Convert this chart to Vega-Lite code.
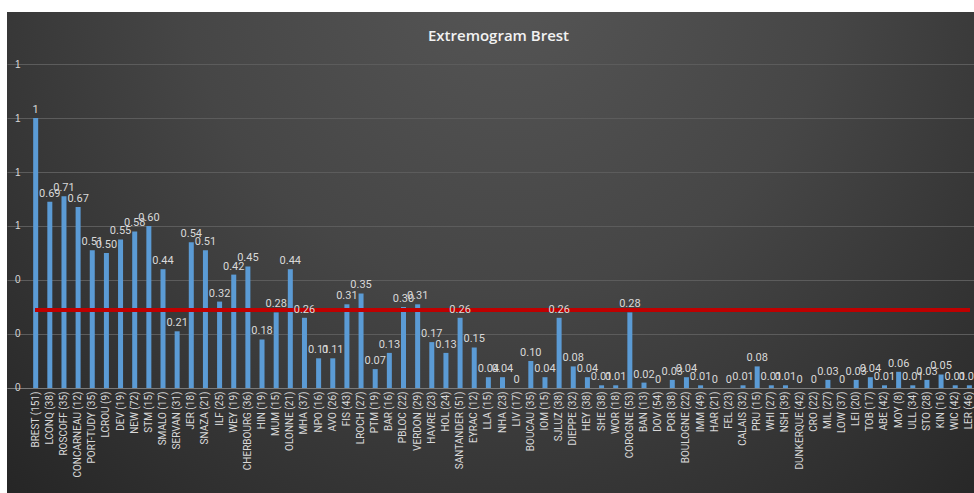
{
  "$schema": "https://vega.github.io/schema/vega-lite/v6.json",
  "autosize": {"type": "none"},
  "width": 967,
  "height": 481,
  "padding": {"left": 7, "top": 12, "right": 0, "bottom": 0},
  "background": "#ffffff",
  "view": {
    "stroke": null,
    "fill": {
      "gradient": "radial",
      "x1": 0.52, "y1": 0.2, "r1": 0,
      "x2": 0.52, "y2": 0.2, "r2": 0.75,
      "stops": [
        {"offset": 0, "color": "#565656"},
        {"offset": 0.45, "color": "#464646"},
        {"offset": 1, "color": "#262626"}
      ]
    }
  },
  "title": {
    "text": "Extremogram  Brest",
    "anchor": "middle",
    "frame": "group",
    "baseline": "middle",
    "offset": -39,
    "dx": 8,
    "font": "Open Sans",
    "fontSize": 15,
    "fontWeight": 600,
    "color": "#f2f2f2"
  },
  "data": {
    "values": [
      {"station": "BREST (151)", "v": 1},
      {"station": "LCONQ (38)", "v": 0.69},
      {"station": "ROSCOFF (35)", "v": 0.71},
      {"station": "CONCARNEAU (12)", "v": 0.67},
      {"station": "PORT-TUDY (35)", "v": 0.51},
      {"station": "LCROU (9)", "v": 0.50},
      {"station": "DEV (19)", "v": 0.55},
      {"station": "NEW (72)", "v": 0.58},
      {"station": "STM (15)", "v": 0.60},
      {"station": "SMALO (17)", "v": 0.44},
      {"station": "SERVAN (31)", "v": 0.21},
      {"station": "JER (18)", "v": 0.54},
      {"station": "SNAZA (21)", "v": 0.51},
      {"station": "ILF (25)", "v": 0.32},
      {"station": "WEY (19)", "v": 0.42},
      {"station": "CHERBOURG (36)", "v": 0.45},
      {"station": "HIN (19)", "v": 0.18},
      {"station": "MUM (15)", "v": 0.28},
      {"station": "OLONNE (21)", "v": 0.44},
      {"station": "MHA (37)", "v": 0.26},
      {"station": "NPO (16)", "v": 0.11},
      {"station": "AVO (26)", "v": 0.11},
      {"station": "FIS (43)", "v": 0.31},
      {"station": "LROCH (27)", "v": 0.35},
      {"station": "PTM (19)", "v": 0.07},
      {"station": "BAR (16)", "v": 0.13},
      {"station": "PBLOC (22)", "v": 0.30},
      {"station": "VERDON (29)", "v": 0.31},
      {"station": "HAVRE (23)", "v": 0.17},
      {"station": "HOL (24)", "v": 0.13},
      {"station": "SANTANDER (51)", "v": 0.26},
      {"station": "EYRAC (12)", "v": 0.15},
      {"station": "LLA (15)", "v": 0.04},
      {"station": "NHA (23)", "v": 0.04},
      {"station": "LIV (17)", "v": 0},
      {"station": "BOUCAU (35)", "v": 0.10},
      {"station": "IOM (15)", "v": 0.04},
      {"station": "SJLUZ (38)", "v": 0.26},
      {"station": "DIEPPE (32)", "v": 0.08},
      {"station": "HEY (38)", "v": 0.04},
      {"station": "SHE (38)", "v": 0.01},
      {"station": "WOR (18)", "v": 0.01},
      {"station": "COROGNE (53)", "v": 0.28},
      {"station": "BAN (13)", "v": 0.02},
      {"station": "DOV (54)", "v": 0},
      {"station": "POR (38)", "v": 0.03},
      {"station": "BOULOGNE (22)", "v": 0.04},
      {"station": "IMM (49)", "v": 0.01},
      {"station": "HAR (21)", "v": 0},
      {"station": "FEL (23)", "v": 0},
      {"station": "CALAIS (32)", "v": 0.01},
      {"station": "PRU (15)", "v": 0.08},
      {"station": "WHI (27)", "v": 0.01},
      {"station": "NSH (39)", "v": 0.01},
      {"station": "DUNKERQUE (42)", "v": 0},
      {"station": "CRO (22)", "v": 0},
      {"station": "MIL (27)", "v": 0.03},
      {"station": "LOW (37)", "v": 0},
      {"station": "LEI (20)", "v": 0.03},
      {"station": "TOB (17)", "v": 0.04},
      {"station": "ABE (42)", "v": 0.01},
      {"station": "MOY (8)", "v": 0.06},
      {"station": "ULL (34)", "v": 0.01},
      {"station": "STO (28)", "v": 0.03},
      {"station": "KIN (16)", "v": 0.05},
      {"station": "WIC (42)", "v": 0.01},
      {"station": "LER (46)", "v": 0.01}
    ]
  },
  "transform": [
    {"calculate": "datum.v == 0 || datum.v == 1 ? '' + datum.v : format(datum.v, '.2f')", "as": "label"}
  ],
  "encoding": {
    "x": {
      "field": "station",
      "type": "nominal",
      "sort": null,
      "scale": {"paddingInner": 0.646, "paddingOuter": 1.04, "align": 0.925},
      "axis": {
        "title": null,
        "orient": "bottom",
        "offset": -105,
        "labelAngle": -90,
        "labelPadding": 3,
        "labelFont": "Liberation Sans Narrow, Roboto, sans-serif",
        "labelFontSize": 10,
        "labelColor": "#d9d9d9",
        "labelOverlap": false,
        "ticks": false,
        "domainColor": "#7a7a7a",
        "domainWidth": 1,
        "grid": false
      }
    },
    "y": {
      "field": "v",
      "type": "quantitative",
      "scale": {"domain": [-0.3889, 1.3926], "nice": false, "zero": false},
      "axis": {
        "title": null,
        "values": [0, 0.2, 0.4, 0.6, 0.8, 1, 1.2],
        "format": ".0f",
        "offset": -16,
        "labelPadding": 3,
        "labelFont": "Liberation Sans, sans-serif",
        "labelFontSize": 10,
        "labelColor": "#d9d9d9",
        "domain": false,
        "ticks": false,
        "grid": true,
        "gridColor": "#5c5c5c",
        "gridWidth": 1
      }
    }
  },
  "layer": [
    {
      "mark": {"type": "bar", "color": "#5b9bd5"}
    },
    {
      "mark": {"type": "rule", "color": "#c00000", "strokeWidth": 3},
      "encoding": {
        "x": {"datum": "BREST (151)"},
        "x2": {"datum": "LER (46)"},
        "y": {"datum": 0.29}
      }
    },
    {
      "mark": {
        "type": "text",
        "baseline": "bottom",
        "dy": -3,
        "font": "Liberation Sans Narrow, Roboto, sans-serif",
        "fontSize": 11,
        "color": "#d9d9d9"
      },
      "encoding": {"text": {"field": "label"}}
    }
  ]
}
